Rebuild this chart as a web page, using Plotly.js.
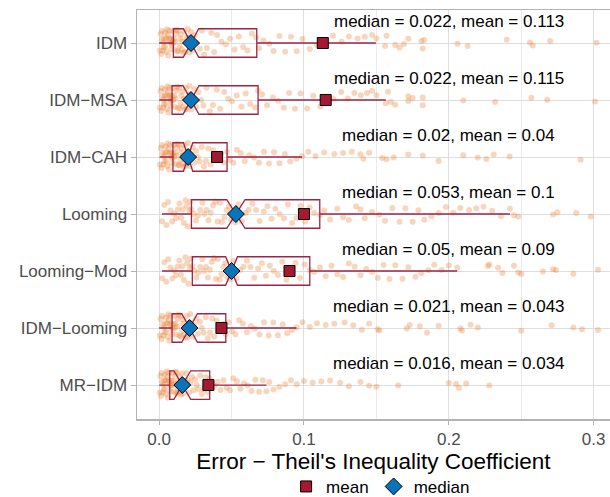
<!DOCTYPE html>
<html>
<head>
<meta charset="utf-8">
<script src="https://cdn.plot.ly/plotly-3.0.1.min.js"></script>
<style>html,body{margin:0;padding:0;background:#fff;}#chart{width:610px;height:497px;}</style>
</head>
<body>
<div id="chart"></div>
<script>
// ---- data ----
var categories = ['IDM', 'IDM\u2212MSA', 'IDM\u2212CAH', 'Looming', 'Looming\u2212Mod', 'IDM\u2212Looming', 'MR\u2212IDM'];

var q1Vals      = [0.0098, 0.0089, 0.0095, 0.0223, 0.0229, 0.0089, 0.0073];
var medianVals  = [0.022, 0.022, 0.02, 0.053, 0.05, 0.021, 0.016];
var q3Vals      = [0.0674, 0.0683, 0.0469, 0.1109, 0.104, 0.046, 0.0349];
var lowerWhisk  = [0.0, 0.0, 0.0003, 0.002, 0.002, 0.0, 0.0];
var upperWhisk  = [0.1496, 0.1565, 0.0987, 0.2422, 0.2058, 0.0948, 0.0741];
var notchSpan   = [0.0053, 0.0055, 0.0032, 0.0063, 0.0041, 0.0054, 0.0058];
var meanVals    = [0.113, 0.115, 0.04, 0.1, 0.09, 0.043, 0.034];

var ptsIDM = [0.0005,0.001,0.0015,0.002,0.002,0.0025,0.003,0.003,0.0035,0.004,0.0042,0.0048,0.005,0.0055,0.006,0.0062,0.0068,0.007,0.0075,0.008,0.0083,0.0088,0.009,0.0094,0.0098,
0.0102,0.0107,0.011,0.0116,0.012,0.0125,0.013,0.0134,0.0141,0.0145,0.015,0.0157,0.016,0.0168,0.0172,0.018,0.0186,0.019,0.0198,0.0204,0.021,0.0216,0.022,
0.023,0.0245,0.026,0.028,0.0295,0.031,0.033,0.036,0.038,0.04,0.043,0.046,0.049,0.052,0.055,0.058,0.061,0.064,0.067,0.069,
0.072,0.076,0.079,0.083,0.087,0.091,0.095,0.099,0.104,0.109,0.114,0.12,0.126,0.131,0.137,0.142,0.147,
0.15,0.156,0.157,0.163,0.166,0.169,0.172,0.181,0.182,0.183,0.206,0.213,0.24,0.256,0.258,0.27,0.302,0.38,0.45,0.6,0.8,1.1,1.5];

var ptsIDM_MSA = [0.0004,0.001,0.0014,0.0019,0.0023,0.0028,0.003,0.0034,0.0039,0.0041,0.0046,0.005,0.0053,0.0058,0.006,0.0064,0.0069,0.0072,0.0076,0.0079,0.0082,0.0085,0.0088,
0.0093,0.0097,0.0103,0.0108,0.0113,0.0119,0.0124,0.0129,0.0136,0.0142,0.0148,0.0153,0.0159,0.0166,0.0171,0.0178,0.0184,0.0191,0.0197,0.0203,0.0209,0.0214,0.022,
0.0228,0.0242,0.0256,0.0271,0.029,0.0306,0.0327,0.0349,0.0372,0.0398,0.0421,0.0449,0.0477,0.0503,0.0536,0.0568,0.0597,0.0629,0.0662,0.0683,
0.0711,0.0745,0.0786,0.0822,0.0861,0.0897,0.0938,0.0976,0.1022,0.1064,0.1113,0.1158,0.1204,0.1257,0.1302,0.1348,0.1392,0.1435,0.147,0.15,0.1565,
0.158,0.16,0.163,0.172,0.172,0.175,0.182,0.182,0.21,0.232,0.257,0.268,0.301,0.35,0.47,0.66,0.9,1.2,1.6];

var ptsIDM_CAH = [0.0006,0.0011,0.0016,0.0021,0.0024,0.0029,0.0033,0.0037,0.004,0.0044,0.0049,0.0052,0.0056,0.0061,0.0065,0.0068,0.0071,0.0076,0.008,0.0084,0.0087,0.0091,0.0095,
0.0099,0.0104,0.0109,0.0113,0.0118,0.0122,0.0127,0.0131,0.0137,0.0141,0.0146,0.015,0.0156,0.0161,0.0166,0.0171,0.0176,0.0182,0.0188,0.0193,0.0198,0.0204,
0.0212,0.0221,0.0232,0.0243,0.0255,0.0267,0.028,0.0294,0.0309,0.0323,0.0339,0.0356,0.0374,0.0392,0.041,0.0428,0.0447,0.0469,
0.0488,0.0512,0.0537,0.0563,0.0591,0.0622,0.0655,0.0689,0.0724,0.0758,0.0793,0.0831,0.0868,0.0905,0.0948,0.0987,
0.103,0.108,0.114,0.121,0.127,0.133,0.139,0.141,0.145,0.154,0.157,0.162,0.172,0.182,0.193,0.21,0.22,0.226,0.231,0.242,0.291];

var ptsLooming = [0.002,0.0035,0.005,0.0062,0.0078,0.009,0.0104,0.0117,0.0129,0.0141,0.0152,0.0163,0.0171,0.0182,0.0191,0.0199,0.0207,0.0215,0.0223,
0.0238,0.0254,0.0269,0.0283,0.0298,0.0312,0.0327,0.0341,0.0356,0.0372,0.0388,0.0403,0.0419,0.0434,0.0451,0.0468,0.0483,0.0497,0.0512,0.0527,
0.0548,0.0571,0.0596,0.0618,0.0643,0.0669,0.0694,0.0722,0.0748,0.0776,0.0803,0.0832,0.0861,0.0889,0.0918,0.0948,0.0977,0.1008,0.1039,0.107,0.1109,
0.114,0.118,0.123,0.127,0.131,0.136,0.139,0.142,0.147,0.152,0.156,0.161,0.166,0.17,0.175,0.179,0.183,0.188,0.193,0.198,0.203,0.208,0.214,0.219,0.224,0.23,0.236,0.2422,
0.245,0.248,0.272,0.275,0.288,0.298,0.33,0.41,0.55];

var ptsLooming_Mod = [0.0021,0.0036,0.0049,0.0063,0.0077,0.0091,0.0103,0.0116,0.0128,0.0139,0.0151,0.016,0.0171,0.0182,0.0193,0.0202,0.0211,0.0219,0.0229,
0.0243,0.0257,0.0271,0.0284,0.0298,0.031,0.0323,0.0337,0.0351,0.0364,0.0378,0.0391,0.0404,0.0418,0.0431,0.0445,0.0458,0.0471,0.0482,0.0492,
0.0512,0.0535,0.0559,0.0582,0.0606,0.0631,0.0657,0.0683,0.0709,0.0737,0.0764,0.0792,0.0821,0.085,0.0879,0.0909,0.0941,0.0972,0.1005,0.104,
0.107,0.111,0.115,0.119,0.123,0.127,0.131,0.135,0.139,0.143,0.147,0.151,0.155,0.159,0.163,0.168,0.172,0.177,0.181,0.186,0.19,0.195,0.2,0.2058,
0.227,0.228,0.234,0.237,0.245,0.248,0.25,0.265,0.272,0.274,0.286,0.303,0.36,0.52];

var ptsIDM_Looming = [0.0005,0.001,0.0016,0.002,0.0025,0.0029,0.0034,0.0038,0.0042,0.0047,0.005,0.0055,0.0059,0.0063,0.0067,0.0071,0.0075,0.0078,0.0082,0.0086,0.0089,
0.0094,0.0099,0.0104,0.0109,0.0114,0.0119,0.0124,0.0129,0.0134,0.014,0.0145,0.0151,0.0156,0.0161,0.0167,0.0173,0.0178,0.0184,0.019,0.0196,0.0201,0.0206,
0.0214,0.0223,0.0233,0.0244,0.0256,0.0268,0.0281,0.0294,0.0308,0.0322,0.0336,0.0351,0.0366,0.0381,0.0397,0.0413,0.0428,0.0444,0.046,
0.0481,0.0503,0.0527,0.0552,0.0578,0.0606,0.0634,0.0662,0.0693,0.0724,0.0756,0.0788,0.082,0.0853,0.0884,0.0916,0.0948,
0.099,0.104,0.109,0.115,0.121,0.128,0.134,0.14,0.145,0.151,0.152,0.171,0.173,0.18,0.185,0.193,0.208,0.209,0.215,0.22,0.25,0.271,0.286,0.292,0.303,0.38];

var ptsMR_IDM = [0.0004,0.0009,0.0013,0.0017,0.0021,0.0025,0.0028,0.0032,0.0035,0.0039,0.0042,0.0046,0.0049,0.0053,0.0056,0.0059,0.0062,0.0066,0.0069,0.0073,
0.0077,0.0081,0.0085,0.0089,0.0093,0.0097,0.0101,0.0105,0.0109,0.0113,0.0118,0.0122,0.0126,0.013,0.0135,0.014,0.0144,0.0149,0.0153,0.0158,
0.0165,0.0172,0.018,0.0188,0.0197,0.0206,0.0216,0.0226,0.0237,0.0248,0.0259,0.0271,0.0283,0.0295,0.0308,0.0321,0.0335,0.0349,
0.0366,0.0384,0.0403,0.0423,0.0444,0.0466,0.0489,0.0512,0.0537,0.0561,0.0586,0.0612,0.0638,0.0664,0.069,0.0716,0.0741,
0.076,0.079,0.083,0.087,0.091,0.095,0.1,0.106,0.112,0.118,0.125,0.131,0.139,0.145,0.15,0.165,0.2,0.205,0.207,0.212,0.228];

var pointSets = [ptsIDM, ptsIDM_MSA, ptsIDM_CAH, ptsLooming, ptsLooming_Mod, ptsIDM_Looming, ptsMR_IDM];

// ---- traces ----
var FONT = 'Liberation Sans, Arial, Helvetica, sans-serif';
var BOXCOL = '#9c2547';
var traces = [];

pointSets.forEach(function (vals, i) {
  traces.push({
    type: 'box', orientation: 'h',
    x: vals, y: vals.map(function () { return categories[i]; }),
    boxpoints: 'all', jitter: 1, pointpos: 0, width: 0.5,
    fillcolor: 'rgba(0,0,0,0)', line: {width: 0, color: 'rgba(0,0,0,0)'},
    whiskerwidth: 0,
    marker: {color: 'rgba(232,120,40,0.3)', size: 6},
    showlegend: false, hoverinfo: 'skip'
  });
});

traces.push({
  type: 'box', orientation: 'h',
  y: categories,
  q1: q1Vals, median: medianVals, q3: q3Vals,
  lowerfence: lowerWhisk, upperfence: upperWhisk,
  notchspan: notchSpan, notched: true, notchwidth: 0.5,
  width: 0.5, boxpoints: false,
  line: {color: BOXCOL, width: 1.3},
  fillcolor: 'rgba(0,0,0,0)',
  whiskerwidth: 0,
  showlegend: false, hoverinfo: 'skip'
});

traces.push({
  type: 'scatter', mode: 'markers', name: 'mean',
  x: meanVals, y: categories,
  marker: {symbol: 'square', size: 11, color: '#A51931', line: {color: '#000', width: 1}}
});
traces.push({
  type: 'scatter', mode: 'markers', name: 'median',
  x: medianVals, y: categories,
  marker: {symbol: 'diamond', size: 13, color: '#0A73B9', line: {color: '#000', width: 1}}
});

var annotations = categories.map(function (c, i) {
  return {
    x: 0.2, y: i - 0.37, xref: 'x', yref: 'y',
    text: 'median = ' + medianVals[i] + ', mean = ' + meanVals[i],
    showarrow: false, xanchor: 'center', yanchor: 'middle',
    font: {family: FONT, size: 17, color: '#000'}
  };
});

var layout = {
  width: 610, height: 497,
  margin: {l: 137, r: 0, t: 10, b: 78, autoexpand: false},
  paper_bgcolor: '#fff', plot_bgcolor: '#fff',
  font: {family: FONT, color: '#000'},
  boxmode: 'overlay',
  showlegend: true,
  legend: {orientation: 'h', x: 0.515, xanchor: 'center', y: -0.166, yanchor: 'middle',
           font: {family: FONT, size: 17, color: '#000'}, bgcolor: 'rgba(0,0,0,0)'},
  annotations: annotations,
  xaxis: {
    range: [-0.0153, 0.3113], tick0: 0, dtick: 0.1, tickformat: '.1f',
    showgrid: true, gridcolor: '#dedede', gridwidth: 1,
    minor: {dtick: 0.05, showgrid: true, gridcolor: '#ebebeb', gridwidth: 1},
    zeroline: false, showline: true, linecolor: '#b3b3b3', linewidth: 1.5, mirror: true,
    ticks: 'outside', ticklen: 4, tickcolor: '#b3b3b3',
    tickfont: {family: FONT, size: 17, color: '#4d4d4d'},
    automargin: false,
    title: {text: 'Error \u2212 Theil\'s Inequality Coefficient', font: {family: FONT, size: 22.5, color: '#000'}, standoff: 3}
  },
  yaxis: {
    type: 'category', categoryorder: 'array', categoryarray: categories,
    range: [6.596, -0.579],
    showgrid: true, gridcolor: '#dedede', gridwidth: 1,
    zeroline: false, showline: true, linecolor: '#b3b3b3', linewidth: 1.5, mirror: true,
    ticks: 'outside', ticklen: 5, tickcolor: '#b3b3b3',
    tickfont: {family: FONT, size: 17, color: '#4d4d4d'},
    automargin: false
  }
};

Plotly.newPlot('chart', traces, layout, {displayModeBar: false, staticPlot: true});
</script>
</body>
</html>
